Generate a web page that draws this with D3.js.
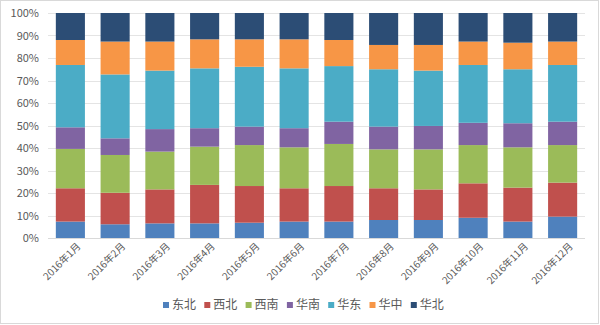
<!DOCTYPE html>
<html>
<head>
<meta charset="utf-8">
<script src="https://cdn.jsdelivr.net/npm/d3@7"></script>
<style>
  html, body { margin: 0; padding: 0; background: #fff; }
  svg text { font-family: "Noto Sans CJK SC", "Noto Sans", sans-serif; fill: #595959; }
</style>
</head>
<body>
<svg id="chart" width="600" height="325"></svg>
<script>
// Monthly share by region, 2016 (stacked to 100%)
const months = ["2016年1月","2016年2月","2016年3月","2016年4月","2016年5月","2016年6月",
                "2016年7月","2016年8月","2016年9月","2016年10月","2016年11月","2016年12月"];
const regions = ["东北","西北","西南","华南","华东","华中","华北"];
const dongbei  = [7.3, 6.1, 6.5, 6.5, 6.8, 7.3, 7.3, 8.0, 8.0, 9.0, 7.3, 9.5];
const xibei    = [14.8, 14.0, 15.1, 17.1, 16.3, 14.8, 15.8, 14.1, 13.6, 15.3, 15.1, 15.1];
const xinan    = [17.5, 16.8, 16.8, 17.0, 18.2, 18.2, 18.7, 17.3, 17.8, 17.0, 17.9, 16.7];
const huanan   = [9.6, 7.4, 10.0, 8.2, 8.2, 8.5, 9.9, 10.1, 10.4, 9.9, 10.7, 10.4];
const huadong  = [27.7, 28.4, 26.0, 26.6, 26.6, 26.6, 24.7, 25.5, 24.6, 25.7, 24.0, 25.2];
const huazhong = [11.1, 14.6, 12.9, 12.9, 12.2, 12.9, 11.6, 10.8, 11.4, 10.4, 11.8, 10.4];
const huabei   = [12.0, 12.7, 12.7, 11.7, 11.7, 11.7, 12.0, 14.2, 14.2, 12.7, 13.2, 12.7];
const yTicks   = [0, 0.1, 0.2, 0.3, 0.4, 0.5, 0.6, 0.7, 0.8, 0.9, 1.0];

const seriesValues = [dongbei, xibei, xinan, huanan, huadong, huazhong, huabei];
const colors = ["#4F81BD","#C0504D","#9BBB59","#8064A2","#4BACC6","#F79646","#2C4D75"];

const rows = months.map((m, i) => {
  const r = { month: m };
  regions.forEach((k, j) => { r[k] = seriesValues[j][i]; });
  return r;
});

const svg = d3.select("#chart");

// chart frame
svg.append("rect")
  .attr("x", 0.5).attr("y", 0.5).attr("width", 598).attr("height", 323)
  .attr("fill", "#fff").attr("stroke", "#d9d9d9");

const x = d3.scaleBand().domain(months).range([48, 585])
  .paddingInner(0.35).paddingOuter(0.175);
const y = d3.scaleLinear().domain([0, 1]).range([238, 13]);
const color = d3.scaleOrdinal().domain(regions).range(colors);

// gridlines
svg.append("g").selectAll("line").data(yTicks.slice(1)).join("line")
  .attr("x1", 48).attr("x2", 585)
  .attr("y1", d => Math.round(y(d)) + 0.5).attr("y2", d => Math.round(y(d)) + 0.5)
  .attr("stroke", "#e4e4e4");

// y axis labels
const yAxis = d3.axisLeft(y).tickValues(yTicks).tickFormat(d3.format(".0%")).tickSize(0).tickPadding(0);
const gy = svg.append("g").attr("transform", "translate(39,0)").call(yAxis);
gy.select(".domain").remove();
gy.selectAll("text").style("font-size", "11px").attr("fill", "#595959");

// stacked bars
const stack = d3.stack().keys(regions).offset(d3.stackOffsetExpand);
const layers = stack(rows);
svg.append("g").selectAll("g").data(layers).join("g")
  .attr("fill", d => color(d.key))
  .selectAll("rect").data(d => d).join("rect")
  .attr("x", d => x(d.data.month))
  .attr("width", x.bandwidth())
  .attr("y", d => y(d[1]))
  .attr("height", d => y(d[0]) - y(d[1]));

// baseline
svg.append("line").attr("x1", 48).attr("x2", 585)
  .attr("y1", 238.5).attr("y2", 238.5).attr("stroke", "#d9d9d9");

// x axis labels, rotated
const xAxis = d3.axisBottom(x).tickSize(0).tickPadding(0);
const gx = svg.append("g").attr("transform", "translate(0,242)").call(xAxis);
gx.select(".domain").remove();
gx.selectAll("text")
  .style("font-size", "10px")
  .attr("fill", "#595959")
  .attr("text-anchor", "end")
  .attr("dy", "0.7em")
  .attr("transform", "translate(6,0) rotate(-45)");

// legend
const legend = svg.append("g").attr("transform", "translate(163,305)");
const item = legend.selectAll("g").data(regions).join("g")
  .attr("transform", (d, i) => `translate(${i * 41.3},0)`);
item.append("rect").attr("x", 0).attr("y", -3).attr("width", 6).attr("height", 6)
  .attr("fill", d => color(d));
item.append("text").attr("x", 9).attr("dy", "0.35em")
  .style("font-size", "12px").attr("fill", "#595959").text(d => d);
</script>
</body>
</html>
